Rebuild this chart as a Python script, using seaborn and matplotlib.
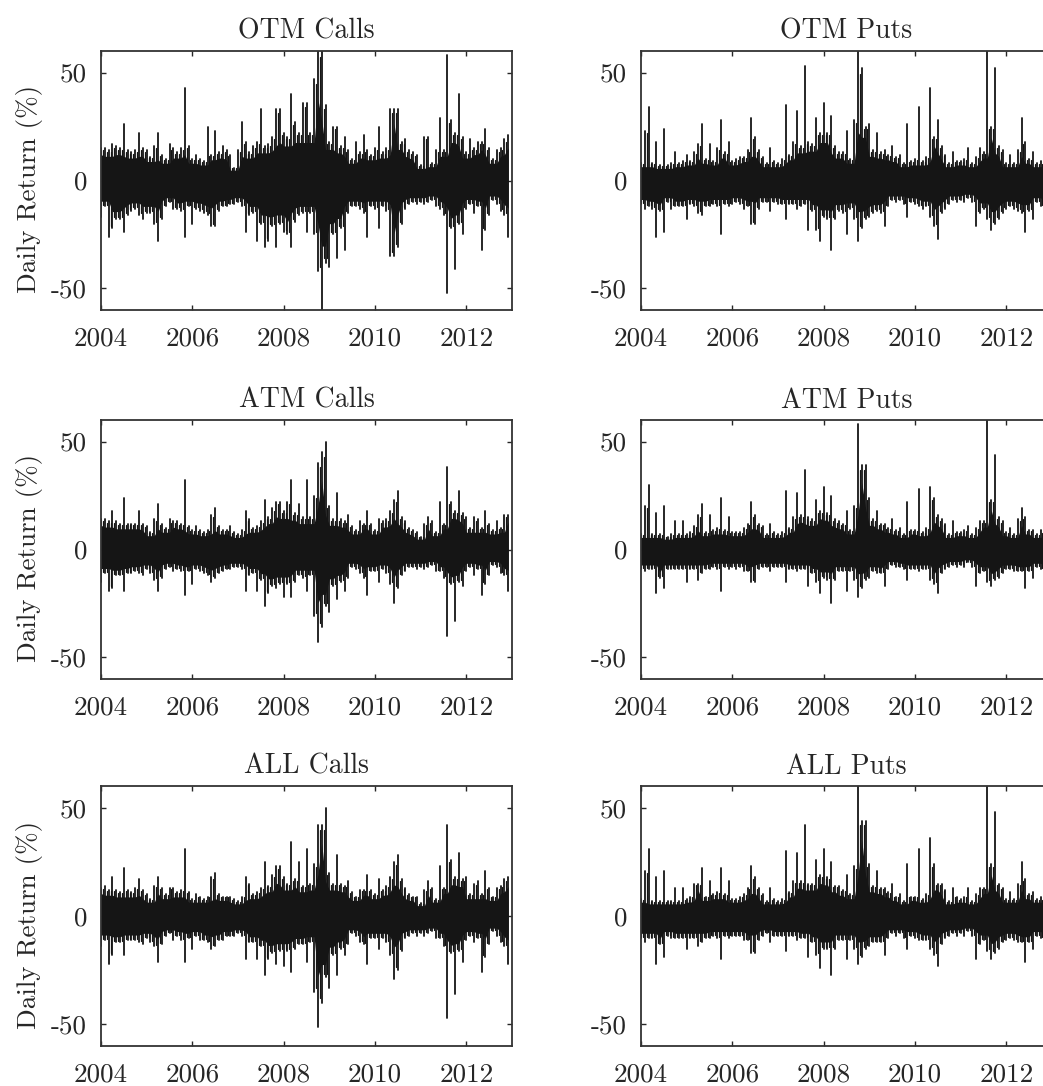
import matplotlib
matplotlib.use('Agg')
import matplotlib.pyplot as plt
import numpy as np
import pandas as pd
import seaborn as sns

# monthly extremes of the daily returns (Jan 2004 - Dec 2012)
otm_calls_up = [15,15,14,17,16,15,26,14,13,14,22,15,
                14,11,16,22,12,10,17,15,13,15,43,16,
                10,12,10,9,25,12,23,13,16,14,12,6,
                14,27,18,13,16,18,33,16,17,20,33,33,
                22,20,40,27,22,36,36,22,47,60,60,35,
                18,25,25,16,20,14,10,18,13,21,14,12,
                15,25,13,15,33,33,33,18,19,14,13,12,
                7,20,20,8,14,29,14,58,28,22,40,20,
                13,19,15,18,18,24,15,10,14,15,19,21]
otm_calls_low = [-17,-12,-26,-22,-18,-18,-24,-16,-14,-13,-16,-18,
                 -15,-15,-20,-28,-18,-12,-10,-13,-13,-14,-26,-12,
                 -20,-13,-14,-15,-16,-21,-21,-14,-12,-12,-11,-11,
                 -10,-12,-24,-16,-15,-28,-20,-31,-28,-21,-31,-20,
                 -24,-25,-31,-19,-16,-15,-24,-15,-25,-42,-60,-38,
                 -40,-25,-36,-22,-32,-15,-12,-12,-13,-15,-26,-12,
                 -13,-22,-12,-14,-35,-35,-31,-20,-13,-11,-10,-11,
                 -10,-11,-10,-9,-12,-13,-16,-52,-22,-41,-20,-25,
                 -13,-11,-15,-12,-32,-23,-16,-9,-11,-14,-16,-26]
otm_puts_up = [8,23,34,8,18,7,24,7,8,13,8,9,
               12,9,13,17,26,10,17,9,15,28,13,18,
               9,10,11,11,14,29,20,14,11,8,15,9,
               8,10,35,12,18,32,16,53,18,17,29,22,
               36,22,30,16,13,13,23,10,28,60,52,25,
               26,14,22,13,14,12,16,11,12,8,26,9,
               10,34,9,11,43,20,28,16,12,8,13,9,
               9,10,15,8,11,15,13,60,25,52,16,14,
               8,12,8,14,29,18,10,13,8,9,8,8]
otm_puts_low = [-11,-13,-12,-13,-26,-14,-24,-10,-13,-12,-12,-12,
                -18,-11,-12,-15,-16,-12,-12,-11,-12,-25,-11,-12,
                -11,-10,-11,-13,-12,-20,-20,-13,-10,-10,-14,-10,
                -11,-11,-18,-11,-11,-13,-12,-11,-23,-14,-23,-28,
                -17,-18,-32,-18,-14,-15,-25,-13,-18,-28,-22,-18,
                -17,-15,-14,-15,-21,-12,-9,-10,-9,-11,-17,-10,
                -11,-12,-13,-12,-17,-21,-27,-15,-13,-11,-9,-10,
                -9,-10,-8,-10,-21,-15,-13,-18,-23,-20,-18,-15,
                -13,-12,-13,-14,-15,-24,-14,-18,-10,-12,-14,-16]
atm_calls_up = [14,14,13,18,13,12,24,12,12,12,18,12,
                11,8,14,21,12,10,14,13,13,12,32,11,
                9,11,9,8,9,16,19,11,9,9,11,8,
                7,9,18,14,10,11,13,23,15,19,22,22,
                18,22,32,17,21,15,32,15,25,40,45,50,
                20,14,26,14,13,16,11,9,13,12,18,12,
                9,14,13,14,18,23,27,15,13,10,9,8,
                6,12,15,13,8,22,12,38,22,18,27,17,
                15,10,15,14,10,18,12,9,13,10,16,16]
atm_calls_low = [-15,-11,-19,-18,-12,-12,-19,-11,-11,-10,-11,-12,
                 -9,-11,-14,-19,-13,-9,-8,-10,-9,-10,-21,-10,
                 -16,-9,-10,-11,-12,-15,-13,-11,-10,-9,-9,-8,
                 -8,-9,-19,-12,-11,-19,-14,-26,-20,-17,-18,-16,
                 -22,-16,-22,-15,-12,-13,-19,-12,-31,-43,-36,-26,
                 -29,-17,-23,-15,-19,-13,-8,-9,-11,-13,-21,-10,
                 -10,-15,-9,-11,-16,-25,-18,-12,-10,-8,-8,-9,
                 -8,-9,-8,-7,-10,-10,-13,-40,-16,-33,-15,-17,
                 -10,-8,-12,-9,-21,-16,-12,-7,-8,-11,-12,-19]
atm_puts_up = [7,20,30,7,17,7,20,6,7,13,7,13,
               7,8,11,16,21,8,16,9,10,24,9,15,
               8,8,8,10,12,22,16,12,11,7,12,8,
               7,8,27,10,15,26,16,37,15,14,23,18,
               29,17,25,14,13,12,18,9,20,58,39,39,
               24,14,18,12,12,10,14,9,10,7,22,9,
               9,28,8,10,29,24,16,14,12,7,13,8,
               8,9,11,7,10,13,13,60,23,44,15,13,
               8,10,7,14,19,15,9,9,7,9,8,9]
atm_puts_low = [-9,-10,-9,-9,-20,-13,-18,-9,-9,-9,-9,-9,
                -15,-9,-9,-14,-11,-9,-9,-8,-9,-19,-8,-9,
                -8,-9,-8,-10,-10,-15,-15,-9,-8,-8,-10,-8,
                -8,-8,-15,-9,-9,-10,-9,-9,-17,-11,-15,-20,
                -13,-14,-25,-14,-10,-10,-19,-10,-14,-22,-18,-14,
                -13,-10,-11,-11,-17,-9,-7,-8,-8,-9,-14,-9,
                -9,-10,-9,-9,-14,-16,-20,-11,-9,-8,-7,-8,
                -7,-8,-6,-8,-17,-11,-10,-15,-17,-14,-13,-11,
                -9,-9,-10,-10,-10,-18,-10,-13,-8,-9,-10,-10]
all_calls_up = [13,14,12,18,12,11,22,12,11,13,17,12,
                10,8,14,18,13,10,13,13,11,12,31,11,
                8,10,9,8,9,18,20,10,9,9,9,8,
                7,9,18,15,10,11,13,25,14,19,23,23,
                18,15,34,17,25,14,31,15,24,42,42,50,
                20,15,28,15,14,16,11,9,12,12,19,12,
                10,17,12,14,18,25,28,17,13,10,9,9,
                6,12,16,13,8,23,13,42,26,18,29,17,
                18,10,15,16,10,21,13,9,13,14,17,18]
all_calls_low = [-14,-11,-22,-18,-12,-12,-18,-11,-11,-11,-12,-13,
                 -10,-12,-14,-21,-13,-9,-8,-11,-9,-11,-21,-10,
                 -15,-9,-11,-11,-12,-15,-14,-11,-11,-9,-9,-9,
                 -8,-9,-20,-12,-12,-20,-14,-27,-20,-17,-22,-16,
                 -23,-16,-26,-15,-13,-13,-21,-12,-35,-51,-40,-28,
                 -33,-18,-27,-15,-18,-13,-8,-9,-12,-13,-22,-10,
                 -10,-15,-10,-12,-18,-29,-25,-16,-10,-9,-8,-9,
                 -8,-9,-8,-7,-10,-10,-14,-47,-17,-36,-16,-21,
                 -11,-9,-12,-10,-26,-19,-13,-7,-9,-12,-14,-22]
all_puts_up = [8,21,31,7,18,7,21,7,7,13,7,13,
               8,9,15,15,22,9,16,10,11,22,10,16,
               8,8,9,10,13,23,18,13,10,7,13,8,
               7,8,30,11,16,29,16,42,15,15,26,19,
               31,18,25,14,14,12,19,10,23,60,44,44,
               24,14,21,13,13,11,15,9,10,7,24,9,
               9,31,8,10,36,24,15,15,12,7,13,9,
               8,9,13,7,10,13,13,60,24,48,15,13,
               8,11,8,15,25,17,10,11,8,9,8,9]
all_puts_low = [-10,-12,-10,-10,-22,-13,-19,-9,-10,-10,-10,-10,
                -15,-10,-10,-14,-12,-10,-10,-9,-10,-20,-9,-10,
                -9,-9,-9,-11,-11,-17,-17,-11,-9,-8,-12,-9,
                -9,-9,-16,-9,-9,-11,-10,-10,-19,-12,-18,-24,
                -15,-15,-27,-15,-11,-11,-20,-11,-15,-22,-19,-15,
                -14,-12,-12,-12,-18,-10,-8,-9,-8,-10,-15,-9,
                -10,-11,-11,-11,-15,-18,-23,-13,-10,-9,-8,-9,
                -8,-9,-7,-9,-20,-13,-11,-16,-20,-17,-15,-12,
                -11,-10,-11,-12,-12,-21,-12,-15,-9,-10,-12,-13]

panel_titles = ['OTM Calls', 'OTM Puts', 'ATM Calls', 'ATM Puts', 'ALL Calls', 'ALL Puts']
panel_up = [otm_calls_up, otm_puts_up, atm_calls_up, atm_puts_up, all_calls_up, all_puts_up]
panel_low = [otm_calls_low, otm_puts_low, atm_calls_low, atm_puts_low, all_calls_low, all_puts_low]
year_ticks = [2004, 2006, 2008, 2010, 2012]
return_ticks = [-50, 0, 50]
return_labels = ['-50', '0', '50']

W, H = 1043, 1086
INK = '#151515'
TEXT = '#262626'

sns.set_theme(style='ticks')
plt.rcParams['font.family'] = ['cmr10', 'Liberation Serif']
plt.rcParams['axes.unicode_minus'] = False

dates = pd.date_range('2004-01-01', periods=108, freq='MS')
months = np.asarray(dates.year + (dates.month - 1) / 12)
ids = np.arange(len(months))

# axes boxes in pixels: left, top, right, bottom
lefts = [101, 641]
rows = [(51, 310), (420, 679), (786, 1046)]

fig = plt.figure(figsize=(W / 100, H / 100), dpi=100)

for i, title in enumerate(panel_titles):
    top, bottom = rows[i // 2]
    left = lefts[i % 2]
    ax = fig.add_axes([left / W, 1 - bottom / H, 411 / W, (bottom - top) / H])

    up = pd.Series(panel_up[i], dtype=float)
    low = pd.Series(panel_low[i], dtype=float)

    # solid body of the series, below the single spikes
    body_up = up.rolling(3, center=True, min_periods=1).min() * 0.8
    body_low = low.rolling(3, center=True, min_periods=1).max() * 0.8
    ax.fill_between(months, body_low, body_up, color=INK, lw=0)

    # one vertical stroke per month
    strokes = pd.DataFrame({
        'date': np.concatenate([months, months]),
        'value': np.concatenate([low, up]),
        'stroke': np.concatenate([ids, ids]),
    })
    sns.lineplot(data=strokes, x='date', y='value', units='stroke', estimator=None,
                 sort=False, color=INK, lw=1.3, legend=False, ax=ax)

    # shorter strokes between the months fill the rough edge of the body
    mid_x = months[:-1] + 1 / 24
    mid_up = np.minimum(up.values[:-1], up.values[1:]) * 0.95
    mid_low = np.maximum(low.values[:-1], low.values[1:]) * 0.95
    fill_strokes = pd.DataFrame({
        'date': np.concatenate([mid_x, mid_x]),
        'value': np.concatenate([mid_low, mid_up]),
        'stroke': np.concatenate([ids[:-1], ids[:-1]]),
    })
    sns.lineplot(data=fill_strokes, x='date', y='value', units='stroke', estimator=None,
                 sort=False, color=INK, lw=0.9, legend=False, ax=ax)

    ax.set_xlim(2004, 2013)
    ax.set_ylim(-60, 60)
    ax.set_xticks(year_ticks)
    ax.set_xticklabels([str(y) for y in year_ticks], fontsize=19.5, color=TEXT)
    ax.set_yticks(return_ticks)
    ax.set_yticklabels(return_labels, fontsize=19.5, color=TEXT)
    ax.tick_params(direction='in', length=3.5, width=1, top=True, right=True, color=TEXT)
    ax.tick_params(axis='x', pad=12)
    ax.tick_params(axis='y', pad=10)
    ax.set_xlabel('')
    ax.set_ylabel('Daily Return (%)' if i % 2 == 0 else '', fontsize=19.5, color=TEXT)
    ax.yaxis.set_label_coords(-0.14, 0.467)
    ax.set_title(title, fontsize=20, color=TEXT, pad=9)
    for spine in ax.spines.values():
        spine.set_linewidth(1.3)
        spine.set_color('#333333')

fig.savefig('out.png', dpi=100)
